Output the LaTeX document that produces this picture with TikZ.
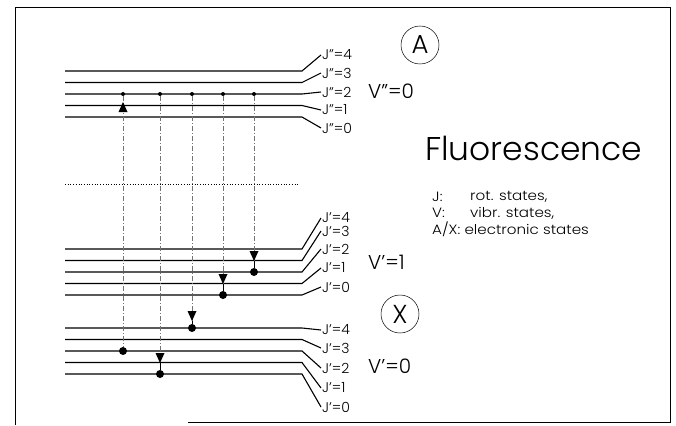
\documentclass[tikz,border=0pt]{standalone}
\usepackage{fontspec}
\IfFontExistsTF{Poppins Light}{\setmainfont{Poppins Light}}{\setmainfont{Poppins}}
\begin{document}
\begin{tikzpicture}[x=1pt,y=-1pt,
  lvl/.style={line width=1.1pt, black},
  vline/.style={dash pattern=on 5pt off 2pt on 1pt off 2pt, black!55, line width=0.5pt},
  frame/.style={line width=0.8pt, black},
  jlab/.style={anchor=west, inner sep=1pt, font=\fontsize{14}{14}\selectfont},
  vlab/.style={anchor=west, inner sep=0pt, font=\fontsize{20}{20}\selectfont},
  sdot/.style={circle, fill=black, inner sep=0pt, minimum size=4pt},
  bdot/.style={circle, fill=black, inner sep=0pt, minimum size=8pt},
  ring/.style={circle, draw, line width=0.5pt, inner sep=0pt, minimum size=38pt, font=\fontsize{26}{26}\selectfont},
  legend/.style={anchor=west, inner sep=0pt, font=\fontsize{13.5}{13.5}\selectfont}]
\useasboundingbox (0,0) rectangle (676,425);
% frame
\draw[frame] (15,425) -- (15,7) -- (670,7) -- (670,422) -- (188,422);
% group A (v''=0)
\foreach \k/\ly/\lb in {4/71/55, 3/82.5/73, 2/94/92, 1/105.5/110, 0/117/128}{
  \node[jlab] (A\k) at (321,\lb) {J"=\k};
  \draw[lvl] (65,\ly) -- (302,\ly) -- (A\k.west);
}
\node[vlab] (vA) at (368,91) {V"=0};
\node[ring] (cA) at (420,45) {A};
% group v'=1
\foreach \k/\ly/\lb in {4/249/218, 3/260.5/231, 2/272/249, 1/283.5/268, 0/295/287}{
  \node[jlab] (B\k) at (321,\lb) {J'=\k};
  \draw[lvl] (65,\ly) -- (302,\ly) -- (B\k.west);
}
\node[vlab] (vB) at (368,262) {V'=1};
% group X (v'=0)
\foreach \k/\ly/\lb in {4/328/330, 3/339.5/348, 2/351/368, 1/362.5/388, 0/374/407}{
  \node[jlab] (X\k) at (321,\lb) {J'=\k};
  \draw[lvl] (65,\ly) -- (302,\ly) -- (X\k.west);
}
\node[vlab] (vX) at (368,366) {V'=0};
\node[ring] (cX) at (400,314) {X};
% dotted separator
\coordinate (s1) at (65,184);
\coordinate (s2) at (298,184);
\draw[dotted, line width=0.7pt] (s1) -- (s2);
% dots on J''=2
\node[sdot] (t1) at (123,94) {};
\node[sdot] (t2) at (160,94) {};
\node[sdot] (t3) at (192,94) {};
\node[sdot] (t4) at (223,94) {};
\node[sdot] (t5) at (254,94) {};
% lower dots
\node[bdot] (b1) at (123,351) {};
\node[bdot] (b2) at (160,374) {};
\node[bdot] (b3) at (192,328) {};
\node[bdot] (b4) at (223,295) {};
\node[bdot] (b5) at (254,272) {};
% vertical connectors
\draw[vline] (t1) -- (b1);
\draw[vline] (t2) -- (b2);
\draw[vline] (t3) -- (b3);
\draw[vline] (t4) -- (b4);
\draw[vline] (t5) -- (b5);
\draw[line width=0.6pt] (160,362) -- (b2);
\draw[line width=0.6pt] (192,321) -- (b3);
\draw[line width=0.6pt] (223,284) -- (b4);
\draw[line width=0.6pt] (254,261) -- (b5);
% arrow heads
\fill (123,102) -- (118.5,112) -- (127.5,112) -- cycle;
\fill (155.5,353) -- (164.5,353) -- (160,363) -- cycle;
\fill (187.5,311) -- (196.5,311) -- (192,321) -- cycle;
\fill (218.5,274) -- (227.5,274) -- (223,284) -- cycle;
\fill (249.5,251) -- (258.5,251) -- (254,261) -- cycle;
% title and legend
\node[anchor=west, inner sep=0pt] (fl) at (425,148) {\resizebox{217pt}{!}{Fluorescence}};
\node[legend] (l1) at (432,197) {\scalebox{1.12}[1]{J:}};
\node[legend] (l1t) at (470,197) {\scalebox{1.12}[1]{rot. states,}};
\node[legend] (l2) at (432,213) {\scalebox{1.12}[1]{V:}};
\node[legend] (l2t) at (470,213) {\scalebox{1.12}[1]{vibr. states,}};
\node[legend] (l3) at (432,229) {\scalebox{1.12}[1]{A/X: electronic states}};
\end{tikzpicture}
\end{document}
